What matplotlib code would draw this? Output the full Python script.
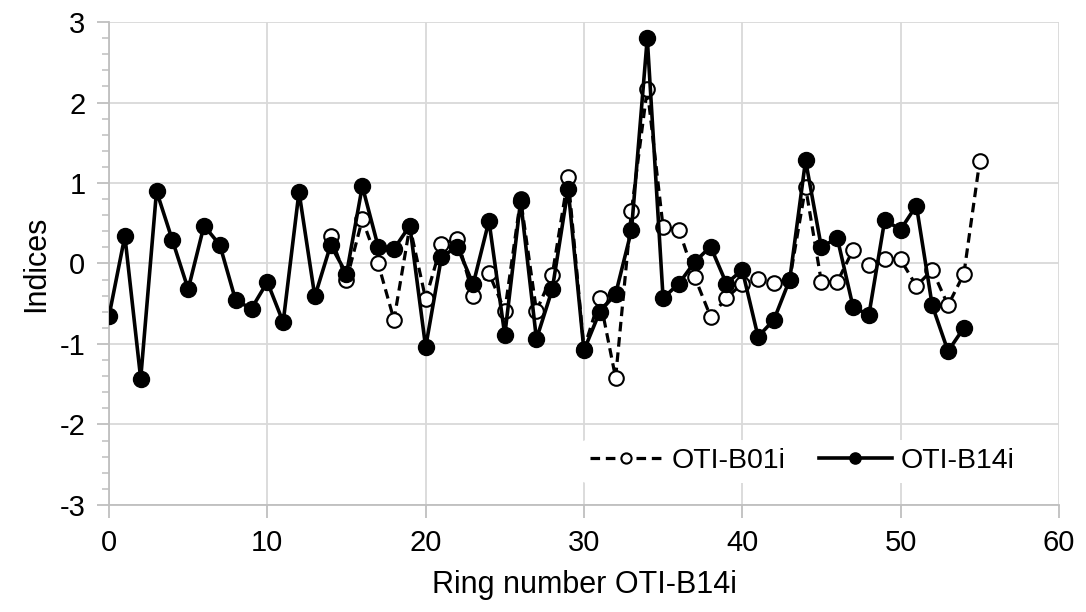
import matplotlib.pyplot as plt
import numpy as np
from matplotlib.ticker import MultipleLocator

plt.rcParams["font.family"] = ["Liberation Sans", "DejaVu Sans"]
plt.rcParams["axes.unicode_minus"] = False

# Ring index series (standardised chronology values)
rings_b14 = list(range(0, 55))
idx_b14 = [-0.65, 0.34, -1.43, 0.90, 0.29, -0.32, 0.47, 0.23, -0.46, -0.56,
           -0.23, -0.73, 0.89, -0.41, 0.23, -0.13, 0.96, 0.21, 0.18, 0.47,
           -1.04, 0.08, 0.21, -0.26, 0.53, -0.89, 0.78, -0.94, -0.32, 0.93,
           -1.08, -0.60, -0.38, 0.41, 2.80, -0.43, -0.25, 0.02, 0.21, -0.25,
           -0.08, -0.91, -0.70, -0.20, 1.28, 0.20, 0.32, -0.54, -0.64, 0.54,
           0.42, 0.72, -0.52, -1.09, -0.80]

rings_b01 = list(range(14, 56))
idx_b01 = [0.34, -0.21, 0.55, 0.00, -0.70, 0.46, -0.44, 0.24, 0.31, -0.40,
           -0.12, -0.59, 0.80, -0.59, -0.14, 1.07, -1.06, -0.43, -1.42, 0.65,
           2.17, 0.45, 0.42, -0.17, -0.66, -0.43, -0.25, -0.19, -0.24, -0.20,
           0.95, -0.23, -0.23, 0.17, -0.02, 0.06, 0.05, -0.28, -0.08, -0.52,
           -0.13, 1.27]

fig = plt.figure(figsize=(10.86, 6.12), dpi=100)
ax = fig.add_axes([0.1004, 0.175, 0.8746, 0.789])

ax.plot(rings_b01, idx_b01, linestyle=(0, (3.0, 1.8)), color="black", lw=2.3,
        marker="o", markersize=10.5, markerfacecolor="white",
        markeredgecolor="black", markeredgewidth=1.5, label="OTI-B01i", zorder=3)
ax.plot(rings_b14, idx_b14, linestyle="-", color="black", lw=2.6,
        marker="o", markersize=11.5, markerfacecolor="black",
        markeredgecolor="black", label="OTI-B14i", zorder=4)

ax.set_xlim(0, 60)
ax.set_ylim(-3, 3)
ax.xaxis.set_major_locator(MultipleLocator(10))
ax.yaxis.set_major_locator(MultipleLocator(1))
ax.yaxis.set_minor_locator(MultipleLocator(0.2))

ax.grid(True, which="major", color="#d9d9d9", lw=1.3)
ax.set_axisbelow(True)
for s in ("top", "right"):
    ax.spines[s].set_visible(False)
for s in ("left", "bottom"):
    ax.spines[s].set_color("#bfbfbf")
    ax.spines[s].set_linewidth(1.3)

ax.tick_params(axis="both", which="major", direction="out", length=9,
               width=1.3, color="#bfbfbf", labelsize=21, pad=8)
ax.tick_params(axis="y", which="minor", direction="out", length=5,
               width=1.1, color="#bfbfbf")

ax.set_xlabel("Ring number OTI-B14i", fontsize=22, labelpad=10)
ax.set_ylabel("Indices", fontsize=22, labelpad=6)

leg = ax.legend(loc="center right", bbox_to_anchor=(0.962, 0.09), ncol=2,
                frameon=True, fontsize=20.5, handlelength=2.55, markerscale=0.7,
                columnspacing=1.2, handletextpad=0.3, borderpad=0.3,
                borderaxespad=0.0)
leg.get_frame().set_facecolor("white")
leg.get_frame().set_edgecolor("none")
leg.get_frame().set_alpha(1.0)

fig.savefig("out.png", dpi=100)
